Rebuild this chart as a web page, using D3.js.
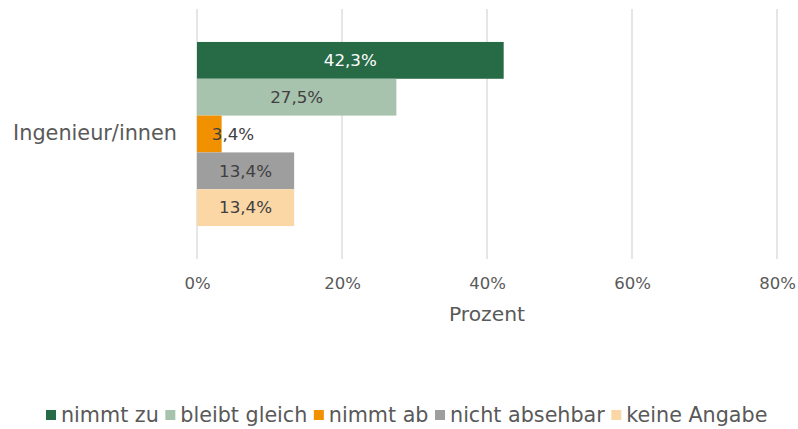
<!DOCTYPE html>
<html>
<head>
<meta charset="utf-8">
<script src="https://cdn.jsdelivr.net/npm/d3@7"></script>
<style>
	body { margin: 0; background: #fff; }
	text { font-family: "DejaVu Sans", sans-serif; fill: #595959; }
</style>
</head>
<body>
<div id="chart"></div>
<script>
const categories = ["Ingenieur/innen"];
const series = ["nimmt zu", "bleibt gleich", "nimmt ab", "nicht absehbar", "keine Angabe"];
const values = [42.3, 27.5, 3.4, 13.4, 13.4];
const colors = ["#266a46", "#a7c3ae", "#f29100", "#9e9e9e", "#fbd7a6"];
const ticks = [0, 20, 40, 60, 80];

const width = 798,
	height = 429;
const m = { left: 197, right: 21, top: 9, bottom: 170 };

const svg = d3
	.select("#chart")
	.append("svg")
	.attr("width", width)
	.attr("height", height);

const x = d3.scaleLinear().domain([0, 80]).range([m.left, width - m.right]);
const y = d3
	.scaleBand()
	.domain(categories)
	.range([m.top, height - m.bottom])
	.paddingOuter(0.179)
	.paddingInner(0);
const ys = d3
	.scaleBand()
	.domain(series)
	.range([0, y.bandwidth()]);

// grid
svg
	.append("g")
	.selectAll("line")
	.data(ticks)
	.join("line")
	.attr("x1", (d) => x(d))
	.attr("x2", (d) => x(d))
	.attr("y1", m.top)
	.attr("y2", height - m.bottom)
	.attr("stroke", "#d9d9d9")
	.attr("stroke-width", 1.3);

const g = svg
	.append("g")
	.attr("transform", `translate(0,${y(categories[0])})`);

g.selectAll("rect")
	.data(values)
	.join("rect")
	.attr("x", x(0))
	.attr("y", (d, i) => ys(series[i]))
	.attr("width", (d) => x(d) - x(0))
	.attr("height", ys.bandwidth())
	.attr("fill", (d, i) => colors[i]);

// small bars get their label pushed right, like excel does
g.selectAll("text")
	.data(values)
	.join("text")
	.attr("x", (d) => x(0) + Math.max((x(d) - x(0)) / 2, 36))
	.attr("y", (d, i) => ys(series[i]) + ys.bandwidth() / 2)
	.attr("dy", "0.35em")
	.attr("text-anchor", "middle")
	.style("font-size", "16.7px")
	.style("fill", (d, i) => (i === 0 ? "#fff" : "#404040"))
	.text((d) => d.toFixed(1).replace(".", ",") + "%");

// category label
svg
	.selectAll(".cat")
	.data(categories)
	.join("text")
	.attr("class", "cat")
	.attr("x", 177)
	.attr("y", (d) => y(d) + y.bandwidth() / 2 - 1)
	.attr("dy", "0.35em")
	.attr("text-anchor", "end")
	.style("font-size", "20.8px")
	.text((d) => d);

// x axis
const xAxis = svg
	.append("g")
	.attr("transform", `translate(0,${height - m.bottom})`)
	.call(
		d3
			.axisBottom(x)
			.tickValues(ticks)
			.tickSize(0)
			.tickPadding(18)
			.tickFormat((d) => d + "%")
	);
xAxis.select(".domain").remove();
xAxis.selectAll("text").style("font-size", "16.5px").style("font-family", null);

svg
	.append("text")
	.attr("x", (m.left + width - m.right) / 2)
	.attr("y", 321)
	.attr("text-anchor", "middle")
	.style("font-size", "20.3px")
	.text("Prozent");

// legend
const legend = svg.append("g").attr("transform", "translate(0,415)");
let lx = 46;
series.forEach((s, i) => {
	const item = legend.append("g").attr("transform", `translate(${lx},0)`);
	item
		.append("rect")
		.attr("x", 0)
		.attr("y", -5)
		.attr("width", 10)
		.attr("height", 10)
		.attr("fill", colors[i]);
	const t = item
		.append("text")
		.attr("x", 15)
		.attr("dy", "0.35em")
		.style("font-size", "20.7px")
		.text(s);
	lx += 15 + t.node().getComputedTextLength() + 6.5;
});
</script>
</body>
</html>
